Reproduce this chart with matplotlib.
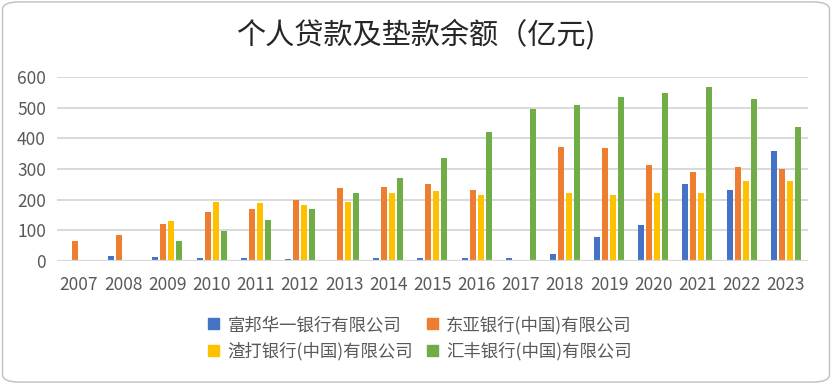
import numpy as np
import matplotlib.pyplot as plt
from matplotlib.patches import Patch, FancyBboxPatch

plt.rcParams['font.family'] = ['Noto Sans CJK SC', 'DejaVu Sans']

years = ['2007', '2008', '2009', '2010', '2011', '2012', '2013', '2014', '2015',
         '2016', '2017', '2018', '2019', '2020', '2021', '2022', '2023']

banks = ['富邦华一银行有限公司', '东亚银行(中国)有限公司',
         '渣打银行(中国)有限公司', '汇丰银行(中国)有限公司']

fubon = [0, 17, 14, 11, 11, 8, 4, 11, 11, 11, 11, 24, 79, 118, 252, 233, 360]
bea = [66, 86, 122, 161, 171, 200, 239, 242, 252, 233, 0, 373, 370, 314, 291, 308, 301]
scb = [0, 0, 132, 193, 190, 184, 193, 223, 229, 216, 0, 223, 216, 223, 223, 262, 262]
hsbc = [0, 0, 66, 99, 135, 171, 223, 272, 337, 422, 497, 510, 536, 549, 568, 529, 438]

colors = ['#4472C4', '#ED7D31', '#FFC000', '#70AD47']
series = [fubon, bea, scb, hsbc]

fig = plt.figure(figsize=(8.32, 3.84), dpi=100)
ax = fig.add_axes([0.0685, 0.3203, 0.9025, 0.4792])

x = np.arange(len(years))
pitch = 0.181
width = 0.136
for i, (vals, c) in enumerate(zip(series, colors)):
    ax.bar(x + (i - 1.5) * pitch, vals, width, color=c, zorder=3)

ax.set_xlim(-0.5, len(years) - 0.5)
ax.set_ylim(0, 600)
ax.set_yticks(range(0, 601, 100))
ax.set_xticks(x)
ax.set_xticklabels(years)
ax.grid(axis='y', color='#D9D9D9', linewidth=1.4, zorder=0)
ax.axhline(0, color='#D9D9D9', linewidth=1.6, zorder=4)
for s in ax.spines.values():
    s.set_visible(False)
ax.tick_params(length=0, labelsize=12.5, labelcolor='#595959')
ax.tick_params(axis='x', pad=11)
ax.tick_params(axis='y', pad=8)

fig.suptitle('个人贷款及垫款余额（亿元)', x=0.5, y=0.95, fontsize=21, color='#262626',
             fontweight='medium')

# matplotlib fills legend column by column, so order entries accordingly
order = [0, 2, 1, 3]
handles = [Patch(color=colors[i]) for i in order]
labels = [banks[i] for i in order]
fig.legend(handles, labels, loc='upper center', bbox_to_anchor=(0.505, 0.21),
           ncol=2, frameon=False, fontsize=12.5, labelcolor='#595959',
           handlelength=0.6, handleheight=0.6, handletextpad=0.5,
           columnspacing=0.8, labelspacing=0.45, borderpad=0.2)

border = FancyBboxPatch((0.003, 0.005), 0.994, 0.99, boxstyle='round,pad=0,rounding_size=0.02',
                        transform=fig.transFigure, fill=False, edgecolor='#BFBFBF', linewidth=1)
fig.patches.append(border)

fig.savefig('out.png', dpi=100)
